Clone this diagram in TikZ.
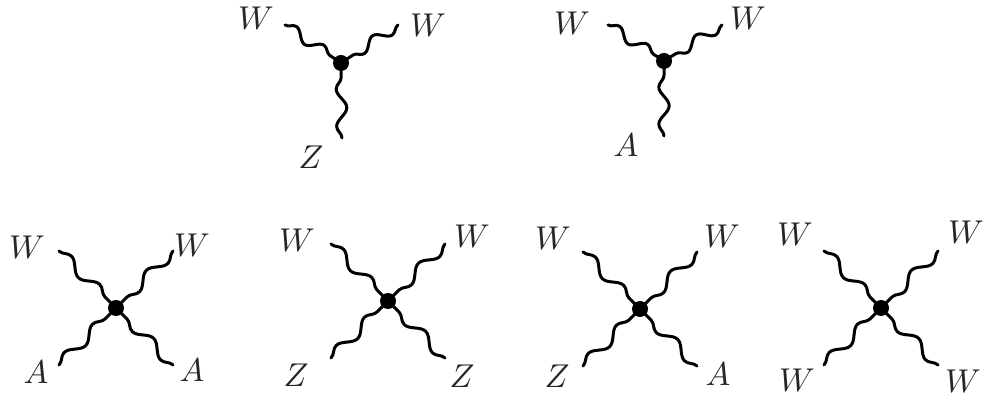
\documentclass[tikz,border=0pt]{standalone}
\usetikzlibrary{decorations.pathmorphing}
\tikzset{
  x=1pt,y=1pt,
  vtx/.style={circle,fill=black,inner sep=0pt,minimum size=16pt},
  lab/.style={scale=3.3,transform shape,inner sep=0pt,text=black!85},
  wave/.style={line width=3pt,line cap=round,line join=round,decorate,decoration={snake,segment length=#1,amplitude=5.2pt}},
}
\newcommand{\threev}[9]{%
  % prefix, vx, vy, e1x, e1y, e2x, e2y, e3x, e3y
  \coordinate (#1e1) at (#4,#5);
  \coordinate (#1e2) at (#6,#7);
  \coordinate (#1e3) at (#8,#9);
  \coordinate (#1v) at (#2,#3);
  \draw[wave=33.3] (#1e1) -- (#1v);
  \draw[wave=33.3] (#1e2) -- (#1v);
  \draw[wave=37.3] (#1e3) -- (#1v);
  \node[vtx] (#1dot) at (#1v) {};
}
\newcommand{\fourv}[3]{%
  % prefix, vx, vy : legs reach 57 out along both axes
  \coordinate (#1v) at (#2,#3);
  \coordinate (#1e1) at (#2-57,#3+57);
  \coordinate (#1e2) at (#2+57,#3+57);
  \coordinate (#1e3) at (#2-57,#3-57);
  \coordinate (#1e4) at (#2+57,#3-57);
  \foreach \k in {1,2,3,4} {\draw[wave=40] (#1e\k) -- (#1v);}
  \node[vtx] (#1dot) at (#1v) {};
}
\begin{document}
\begin{tikzpicture}
\useasboundingbox (0,0) rectangle (984,398);
\threev{a}{341}{335}{285}{373}{398}{373}{342}{260}
\threev{b}{664}{337}{608}{373}{722}{373}{664}{262}
\fourv{c}{116}{90}
\fourv{d}{388}{97}
\fourv{e}{640}{89}
\fourv{f}{881}{90}
\node[lab] (a1) at (256,380) {$W$};
\node[lab] (a2) at (428,373) {$W$};
\node[lab] (a3) at (311,241) {$Z$};
\node[lab] (b1) at (572,375) {$W$};
\node[lab] (b2) at (748,380) {$W$};
\node[lab] (b3) at (626,253) {$A$};
\node[lab] (c1) at (27,151) {$W$};
\node[lab] (c2) at (192,153) {$W$};
\node[lab] (c3) at (36,26) {$A$};
\node[lab] (c4) at (192,28) {$A$};
\node[lab] (d1) at (297,158) {$W$};
\node[lab] (d2) at (472,162) {$W$};
\node[lab] (d3) at (296,23) {$Z$};
\node[lab] (d4) at (462,22) {$Z$};
\node[lab] (e1) at (553,160) {$W$};
\node[lab] (e2) at (722,162) {$W$};
\node[lab] (e3) at (557,22) {$Z$};
\node[lab] (e4) at (718,24) {$A$};
\node[lab] (f1) at (795,164) {$W$};
\node[lab] (f2) at (966,166) {$W$};
\node[lab] (f3) at (797,18) {$W$};
\node[lab] (f4) at (963,17) {$W$};
\end{tikzpicture}
\end{document}
